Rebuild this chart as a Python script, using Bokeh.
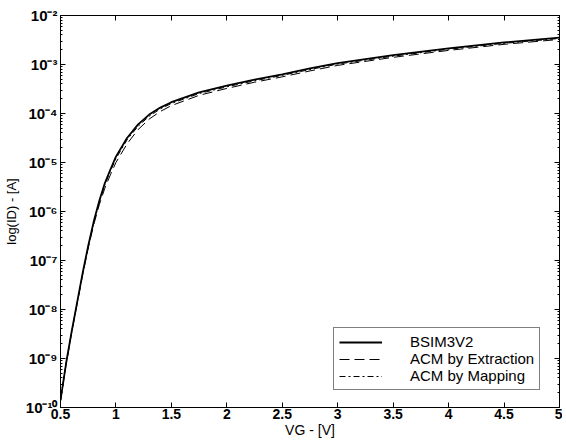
from bokeh.plotting import figure
from bokeh.models import (LogAxis, LinearAxis, FixedTicker, CustomJSTickFormatter,
                          Legend, LegendItem, Range1d)
from bokeh.embed import file_html
from bokeh.resources import INLINE

vg = [0.5, 0.55, 0.6, 0.65, 0.7, 0.75, 0.8, 0.85, 0.9, 0.95, 1.0, 1.1, 1.2, 1.3,
      1.4, 1.5, 1.75, 2.0, 2.25, 2.5, 2.75, 3.0, 3.5, 4.0, 4.5, 5.0]
id_bsim = [1.41e-10, 7.9e-10, 3.5e-9, 1.4e-8, 5.6e-8, 2.0e-7, 6.3e-7, 1.66e-6, 3.8e-6,
           7.2e-6, 1.32e-5, 3.16e-5, 6.0e-5, 9.5e-5, 1.32e-4, 1.7e-4, 2.7e-4, 3.7e-4,
           4.9e-4, 6.3e-4, 8.3e-4, 1.07e-3, 1.55e-3, 2.14e-3, 2.82e-3, 3.55e-3]
id_extr = [1.35e-10, 7.4e-10, 3.3e-9, 1.3e-8, 5.1e-8, 1.8e-7, 5.4e-7, 1.38e-6, 3.0e-6,
           5.6e-6, 1.0e-5, 2.4e-5, 4.7e-5, 7.7e-5, 1.1e-4, 1.45e-4, 2.35e-4, 3.25e-4,
           4.35e-4, 5.6e-4, 7.4e-4, 9.6e-4, 1.4e-3, 1.94e-3, 2.58e-3, 3.25e-3]
id_map = [1.38e-10, 7.7e-10, 3.4e-9, 1.35e-8, 5.4e-8, 1.9e-7, 5.9e-7, 1.55e-6, 3.5e-6,
          6.6e-6, 1.2e-5, 2.9e-5, 5.5e-5, 8.8e-5, 1.24e-4, 1.6e-4, 2.55e-4, 3.5e-4,
          4.65e-4, 6.0e-4, 7.9e-4, 1.02e-3, 1.48e-3, 2.05e-3, 2.7e-3, 3.4e-3]

x_ticks = [0.5, 1, 1.5, 2, 2.5, 3, 3.5, 4, 4.5, 5]
y_ticks = [1e-10, 1e-9, 1e-8, 1e-7, 1e-6, 1e-5, 1e-4, 1e-3, 1e-2]
y_minor = [m * d for d in y_ticks[:-1] for m in range(2, 10)]

FONT = "Liberation Sans"

p = figure(width=562, height=440, output_backend="svg", toolbar_location=None,
           y_axis_type="log", x_range=Range1d(0.5, 5), y_range=Range1d(1e-10, 1e-2),
           min_border_left=59, min_border_top=15, min_border_right=3, min_border_bottom=10)
p.grid.visible = False
p.outline_line_color = "black"
p.background_fill_color = "white"
p.border_fill_color = "white"

r1 = p.line(vg, id_bsim, line_color="black", line_width=1.8)
r2 = p.line(vg, id_extr, line_color="black", line_width=1, line_dash="10 5")
r3 = p.line(vg, id_map, line_color="black", line_width=1, line_dash="6 3 2 3")

fmt = CustomJSTickFormatter(code="""
const e = Math.round(Math.log10(tick));
const sup = {'-':'\u207B','0':'\u2070','1':'\u00B9','2':'\u00B2','3':'\u00B3','4':'\u2074','5':'\u2075','6':'\u2076','7':'\u2077','8':'\u2078','9':'\u2079'};
return '10' + String(e).split('').map(c => sup[c]).join('');
""")
blank = CustomJSTickFormatter(code="return '';")

xt = FixedTicker(ticks=x_ticks)
yt = FixedTicker(ticks=y_ticks, minor_ticks=y_minor)


def style(ax):
    ax.major_tick_in = 5
    ax.major_tick_out = 0
    ax.minor_tick_in = 2
    ax.minor_tick_out = 0
    ax.axis_line_color = "black"
    ax.major_tick_line_color = "black"
    ax.minor_tick_line_color = "black"
    ax.major_label_text_font = FONT
    ax.major_label_text_font_style = "bold"
    ax.major_label_text_font_size = "14px"
    ax.major_label_text_color = "black"
    ax.axis_label_text_font = FONT
    ax.axis_label_text_font_style = "normal"
    ax.axis_label_text_font_size = "13px"
    ax.axis_label_text_color = "black"


xa = p.xaxis[0]
xa.ticker = xt
style(xa)
xa.minor_tick_in = 0
xa.major_label_standoff = 1
xa.axis_label = "VG - [V]"
xa.axis_label_text_font_size = "14px"
xa.axis_label_standoff = 0

ya = p.yaxis[0]
ya.ticker = yt
ya.formatter = fmt
style(ya)
ya.major_label_text_font_size = "15px"
ya.major_label_standoff = 3
ya.axis_label = "log(ID) - [A]"
ya.axis_label_standoff = 4

top = LinearAxis(ticker=xt, formatter=blank)
style(top)
top.minor_tick_in = 0
top.major_label_standoff = 0
p.add_layout(top, "above")

right = LogAxis(ticker=yt, formatter=blank)
style(right)
right.major_label_standoff = 0
p.add_layout(right, "right")

legend = Legend(items=[LegendItem(label="BSIM3V2", renderers=[r1]),
                       LegendItem(label="ACM by Extraction", renderers=[r2]),
                       LegendItem(label="ACM by Mapping", renderers=[r3])],
                location=(273, 17))
legend.border_line_color = "black"
legend.border_line_width = 1
legend.background_fill_alpha = 1
legend.label_text_font = FONT
legend.label_text_font_size = "15px"
legend.label_text_color = "black"
legend.glyph_width = 43
legend.glyph_height = 12
legend.label_height = 12
legend.label_standoff = 28
legend.spacing = -3
legend.padding = 5
legend.margin = 0
p.add_layout(legend, "center")

open("out.html", "w").write(file_html(p, INLINE))
